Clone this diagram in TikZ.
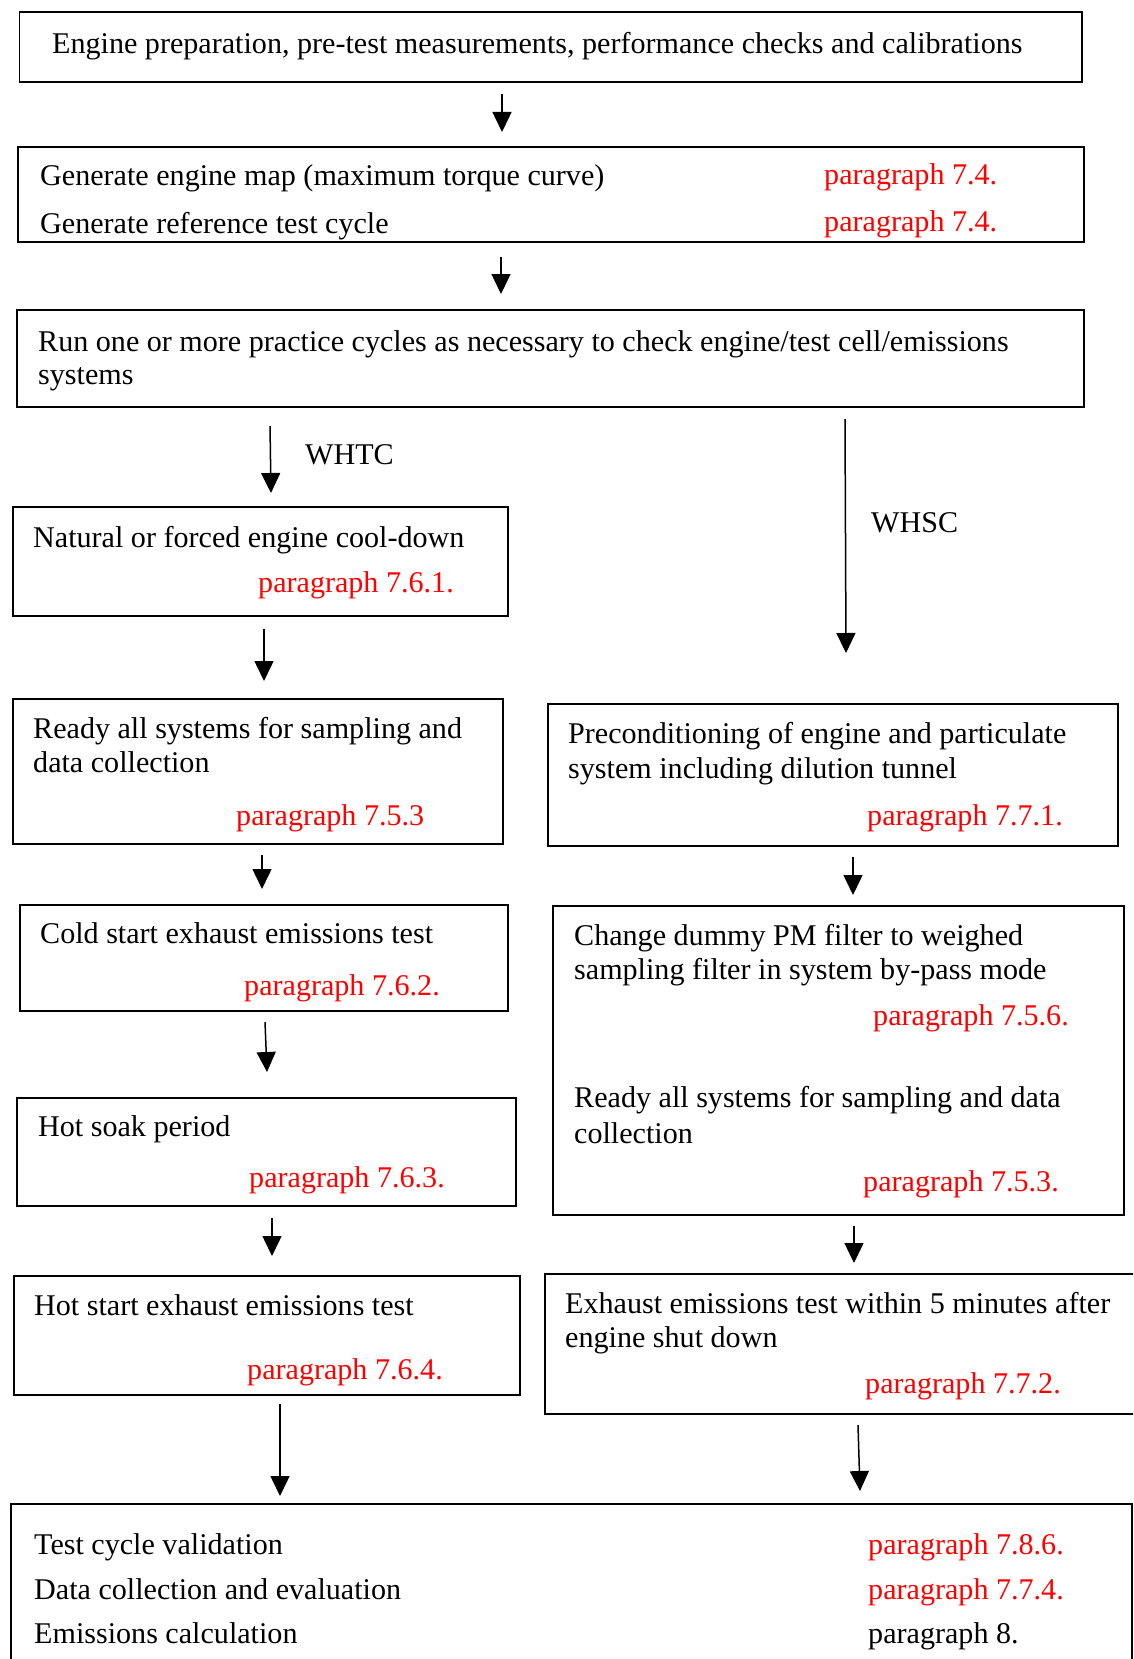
\documentclass[tikz,border=0pt]{standalone}
\usepackage{fontspec}
\setmainfont{Liberation Serif}
\usetikzlibrary{arrows.meta,fit}
\begin{document}
\begin{tikzpicture}[x=1pt,y=-1pt,
  box/.style={draw=black,line width=1.8pt,inner sep=0pt,fit={#1}},
  txt/.style={anchor=base west,inner sep=0pt,yshift=-1.5pt,font=\fontsize{30.1}{36}\selectfont},
  ref/.style={txt,text=red},
  arr/.style={line width=1.5pt,-{Triangle[length=20pt,width=19pt]}}]
\clip (0,0) rectangle (1133,1659);
\fill[white] (0,0) rectangle (1133,1659);
% boxes
\node[box={(19.5,11.7)(1082,81.7)}] (A) {};
\node[box={(18,147)(1084,242)}] (B) {};
\node[box={(17,310)(1084,407)}] (C) {};
\node[box={(13,507)(508,616)}] (D) {};
\node[box={(13,699)(503,844)}] (E) {};
\node[box={(20,905)(508,1011)}] (F) {};
\node[box={(17,1098)(516,1206)}] (G) {};
\node[box={(14,1276)(520,1395)}] (H) {};
\node[box={(548,704)(1118,846)}] (I) {};
\node[box={(553,906)(1124,1215)}] (J) {};
\node[box={(545,1274)(1160,1414)}] (K) {};
\node[box={(11,1504)(1132,1690)}] (L) {};
% texts
\node[txt] (tA) at (52,52) {Engine preparation, pre-test measurements, performance checks and calibrations};
\node[txt] (tB1) at (40,184) {Generate engine map (maximum torque curve)};
\node[txt] (tB2) at (40,232) {Generate reference test cycle};
\node[ref] (rB1) at (824,183) {paragraph 7.4.};
\node[ref] (rB2) at (824,230) {paragraph 7.4.};
\node[txt] (tC1) at (38,350) {Run one or more practice cycles as necessary to check engine/test cell/emissions};
\node[txt] (tC2) at (38,383) {systems};
\node[txt] (whtc) at (305,463) {WHTC};
\node[txt] (whsc) at (871,531) {WHSC};
\node[txt] (tD) at (33,546) {Natural or forced engine cool-down};
\node[ref] (rD) at (258,591) {paragraph 7.6.1.};
\node[txt] (tE1) at (33,737) {Ready all systems for sampling and};
\node[txt] (tE2) at (33,771) {data collection};
\node[ref] (rE) at (236,824) {paragraph 7.5.3};
\node[txt] (tF) at (40,942) {Cold start exhaust emissions test};
\node[ref] (rF) at (244,994) {paragraph 7.6.2.};
\node[txt] (tG) at (38,1135) {Hot soak period};
\node[ref] (rG) at (249,1186) {paragraph 7.6.3.};
\node[txt] (tH) at (34,1314) {Hot start exhaust emissions test};
\node[ref] (rH) at (247,1378) {paragraph 7.6.4.};
\node[txt] (tI1) at (568,742) {Preconditioning of engine and particulate};
\node[txt] (tI2) at (568,777) {system including dilution tunnel};
\node[ref] (rI) at (867,824) {paragraph 7.7.1.};
\node[txt] (tJ1) at (574,944) {Change dummy PM filter to weighed};
\node[txt] (tJ2) at (574,978) {sampling filter in system by-pass mode};
\node[ref] (rJ1) at (873,1024) {paragraph 7.5.6.};
\node[txt] (tJ3) at (574,1106) {Ready all systems for sampling and data};
\node[txt] (tJ4) at (574,1142) {collection};
\node[ref] (rJ2) at (863,1190) {paragraph 7.5.3.};
\node[txt] (tK1) at (565,1312) {Exhaust emissions test within 5 minutes after};
\node[txt] (tK2) at (565,1346) {engine shut down};
\node[ref] (rK) at (865,1392) {paragraph 7.7.2.};
\node[txt] (tL1) at (34,1553) {Test cycle validation};
\node[txt] (tL2) at (34,1598) {Data collection and evaluation};
\node[txt] (tL3) at (34,1642) {Emissions calculation};
\node[ref] (rL1) at (868,1553) {paragraph 7.8.6.};
\node[ref] (rL2) at (868,1598) {paragraph 7.7.4.};
\node[txt] (rL3) at (868,1642) {paragraph 8.};
% arrow end points
\coordinate (ab1) at (502,94);   \coordinate (ae1) at (502,132);
\coordinate (ab2) at (501,257);  \coordinate (ae2) at (501,294);
\coordinate (ab3) at (270,426);  \coordinate (ae3) at (271,493);
\coordinate (ab4) at (845,419);  \coordinate (ae4) at (846,653);
\coordinate (ab5) at (264,629);  \coordinate (ae5) at (264,681);
\coordinate (ab6) at (262,855);  \coordinate (ae6) at (262,889);
\coordinate (ab7) at (265,1022); \coordinate (ae7) at (267,1072);
\coordinate (ab8) at (272,1218); \coordinate (ae8) at (272,1256);
\coordinate (ab9) at (280,1404); \coordinate (ae9) at (280,1496);
\coordinate (ab10) at (853,857); \coordinate (ae10) at (853,895);
\coordinate (ab11) at (854,1226); \coordinate (ae11) at (854,1263);
\coordinate (ab12) at (858,1425); \coordinate (ae12) at (860,1491);
\foreach \i in {1,...,12} {\draw[arr] (ab\i) -- (ae\i);}
\end{tikzpicture}
\end{document}
